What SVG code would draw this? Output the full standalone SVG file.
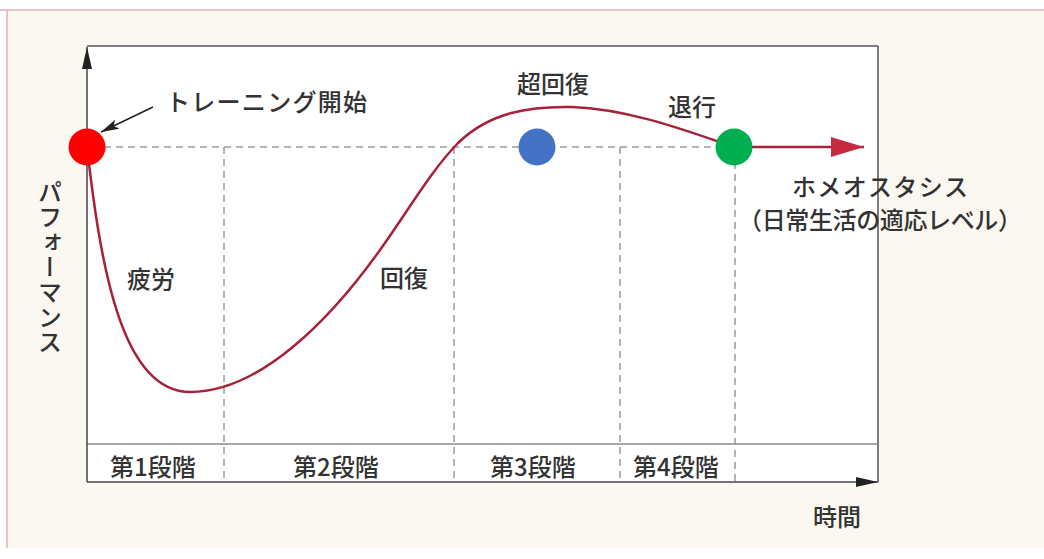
<svg xmlns="http://www.w3.org/2000/svg" width="1044" height="559" viewBox="0 0 1044 559">
<style>
  .t { font-family: "Noto Sans CJK JP", "Liberation Sans", sans-serif; fill: #333; font-size: 24px; font-weight: 500; dominant-baseline: central; }
  .dash { stroke: #9a9a9a; stroke-width: 1.5; stroke-dasharray: 7 5; fill: none; }
  .box { stroke: #555; stroke-width: 1.5; fill: none; }
  .curve { stroke: #a8213a; stroke-width: 2.5; fill: none; }
</style>
<defs>
  <marker id="axisArrow" markerUnits="userSpaceOnUse" markerWidth="22" markerHeight="12" refX="22" refY="6" orient="auto">
    <path d="M0,1 L22,6 L0,11 Z" fill="#222"/>
  </marker>
  <marker id="noteArrow" markerUnits="userSpaceOnUse" markerWidth="18" markerHeight="12" refX="18" refY="6" orient="auto">
    <path d="M0,1 L18,6 L0,11 L4,6 Z" fill="#222"/>
  </marker>
  <marker id="redArrow" markerUnits="userSpaceOnUse" markerWidth="34" markerHeight="22" refX="33" refY="11" orient="auto">
    <path d="M0,1 L33,11 L0,21 Z" fill="#c62a40"/>
  </marker>
</defs>

<rect x="0" y="0" width="1044" height="559" fill="#ffffff"/>
<rect x="7" y="10" width="1037" height="538" fill="#fbf8f1"/>
<line x1="0" y1="10" x2="1044" y2="10" stroke="#dcb3bd" stroke-width="1.5"/>
<line x1="7" y1="10" x2="7" y2="548" stroke="#dcb3bd" stroke-width="1.5"/>

<g id="chart-frame">
  <rect x="87" y="46" width="791" height="436" fill="#ffffff"/>
  <line class="box" x1="87" y1="46" x2="878" y2="46"/>
  <line class="box" x1="878" y1="46" x2="878" y2="482"/>
  <line x1="87" y1="444" x2="878" y2="444" stroke="#8a8a8a" stroke-width="1.5"/>
</g>

<g id="grid">
  <line class="dash" x1="104" y1="147" x2="718" y2="147"/>
  <line class="dash" x1="224" y1="147" x2="224" y2="482"/>
  <line class="dash" x1="454" y1="147" x2="454" y2="482"/>
  <line class="dash" x1="620" y1="147" x2="620" y2="482"/>
  <line class="dash" x1="735" y1="162" x2="735" y2="482"/>
</g>

<g id="connectors">
  <line x1="87" y1="482" x2="87" y2="47" stroke="#444" stroke-width="1.5" marker-end="url(#axisArrow)"/>
  <line x1="87" y1="482" x2="878" y2="482" stroke="#444" stroke-width="1.5" marker-end="url(#axisArrow)"/>
  <line x1="153" y1="107" x2="101" y2="132" stroke="#222" stroke-width="1.5" marker-end="url(#noteArrow)"/>
  <path class="curve" d="M87,147 C100,260 120,392 190,392 C260,392 330,320 380,250 C410,208 430,172 458,143 C490,112 530,106 572,107 C630,109 690,132 734,147"/>
  <line class="curve" x1="734" y1="147" x2="864" y2="147" marker-end="url(#redArrow)"/>
</g>

<g id="node-start"><circle cx="87" cy="147" r="18.5" fill="#ff0000"/></g>
<g id="node-supercomp"><circle cx="537" cy="147" r="18.5" fill="#4472c4"/></g>
<g id="node-homeostasis"><circle cx="734" cy="147" r="18.5" fill="#00b050"/></g>

<g id="label-start"><text class="t" x="166" y="100" textLength="201" lengthAdjust="spacing">トレーニング開始</text></g>
<g id="label-yaxis"><text class="t" x="50" y="180" style="writing-mode: vertical-rl; letter-spacing: 1px;">パフォーマンス</text></g>
<g id="label-fatigue"><text class="t" x="127" y="277">疲労</text></g>
<g id="label-recovery"><text class="t" x="380" y="276">回復</text></g>
<g id="label-super"><text class="t" x="517" y="82">超回復</text></g>
<g id="label-decline"><text class="t" x="668" y="105">退行</text></g>
<g id="label-homeo"><text class="t" x="792" y="185" textLength="176" lengthAdjust="spacing">ホメオスタシス</text></g>
<g id="label-homeo2"><text class="t" x="738" y="218" textLength="284" lengthAdjust="spacing">（日常生活の適応レベル）</text></g>
<g id="stage1"><text class="t" x="110" y="465">第1段階</text></g>
<g id="stage2"><text class="t" x="293" y="465">第2段階</text></g>
<g id="stage3"><text class="t" x="490" y="465">第3段階</text></g>
<g id="stage4"><text class="t" x="633" y="465">第4段階</text></g>
<g id="label-time"><text class="t" x="813" y="515">時間</text></g>
</svg>
